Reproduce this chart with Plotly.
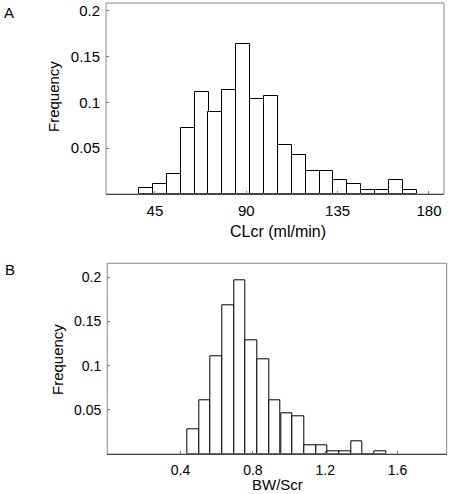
import plotly.graph_objects as go

W, H = 450, 494

# Panel A: CLcr histogram
clcr_centers = [40.7, 47.5, 54.3, 61.2, 68.0, 74.8, 81.7, 88.5, 95.3, 102.2,
                109.0, 115.8, 122.7, 129.5, 136.3, 143.2, 150.0, 156.8, 163.7, 170.5]
clcr_freq = [0.007, 0.011, 0.022, 0.072, 0.111, 0.089, 0.114, 0.164, 0.104, 0.107,
             0.053, 0.043, 0.025, 0.025, 0.015, 0.011, 0.0044, 0.0044, 0.015, 0.0044]
clcr_bin_width = 6.83
clcr_ticks = [45, 90, 135, 180]

# Panel B: BW/Scr histogram
bwscr_centers = [0.469, 0.534, 0.599, 0.663, 0.728, 0.793, 0.857, 0.922, 0.987,
                 1.052, 1.116, 1.181, 1.246, 1.310, 1.375, 1.440, 1.505]
bwscr_freq = [0.0285, 0.061, 0.111, 0.168, 0.197, 0.129, 0.107, 0.061, 0.046,
              0.043, 0.010, 0.010, 0.0033, 0.0033, 0.014, 0.0, 0.0033]
bwscr_bin_width = 0.0647
bwscr_ticks = [0.4, 0.8, 1.2, 1.6]
bwscr_ticktext = ["0.4", "0.8", "1.2", "1.6"]

freq_ticks = [0.05, 0.1, 0.15, 0.2]
freq_ticktext = ["0.05", "0.1", "0.15", "0.2"]

FONT = "Liberation Sans, Arial, sans-serif"

fig = go.Figure()
fig.add_trace(go.Bar(x=clcr_centers, y=clcr_freq, width=clcr_bin_width,
                     marker=dict(color="white", line=dict(color="black", width=1)),
                     xaxis="x", yaxis="y", showlegend=False))
fig.add_trace(go.Bar(x=bwscr_centers, y=bwscr_freq, width=bwscr_bin_width,
                     marker=dict(color="white", line=dict(color="black", width=1)),
                     xaxis="x2", yaxis="y2", showlegend=False))

def px_x(p):
    return p / W

def px_y(p):
    return 1 - p / H

common_x = dict(showgrid=False, zeroline=False, showline=True, linecolor="black",
                linewidth=1, ticks="inside", ticklen=3, tickcolor="#777",
                ticklabelstandoff=3)
common_y = dict(showgrid=False, zeroline=False, showline=False,
                ticks="inside", ticklen=3, tickcolor="#777",
                tickvals=freq_ticks, ticktext=freq_ticktext, ticklabelstandoff=5)

fig.update_layout(
    width=W, height=H,
    margin=dict(l=0, r=0, t=0, b=0),
    paper_bgcolor="white", plot_bgcolor="white",
    font=dict(family=FONT, color="black", size=15),
    bargap=0,
    xaxis=dict(domain=[px_x(106), px_x(444)], range=[20.9, 187.4], anchor="y",
               tickvals=clcr_ticks, tickfont=dict(size=15), **common_x),
    yaxis=dict(domain=[px_y(194), px_y(3)], range=[0, 0.2085], anchor="x",
               tickfont=dict(size=15), **common_y),
    xaxis2=dict(domain=[px_x(107.3), px_x(446.7)], range=[-0.005, 1.872], anchor="y2",
                tickvals=bwscr_ticks, ticktext=bwscr_ticktext, tickfont=dict(size=14),
                **common_x),
    yaxis2=dict(domain=[px_y(454), px_y(263.3)], range=[0, 0.216], anchor="x2",
                tickfont=dict(size=14), **common_y),
)

# gray frame around each plot area
for xr, yr in (("x domain", "y domain"), ("x2 domain", "y2 domain")):
    fig.add_shape(type="rect", xref=xr, yref=yr, x0=0, x1=1, y0=0, y1=1,
                  line=dict(color="#888", width=1), layer="above")

anns = [
    dict(text="A", x=px_x(9), y=px_y(13), size=15),
    dict(text="B", x=px_x(10), y=px_y(269), size=15),
    dict(text="CLcr (ml/min)", x=px_x(278), y=px_y(231.5), size=16),
    dict(text="BW/Scr", x=px_x(277), y=px_y(484.5), size=15),
    dict(text="Frequency", x=px_x(53), y=px_y(97), size=15, angle=-90),
    dict(text="Frequency", x=px_x(57), y=px_y(360), size=15, angle=-90),
]
for a in anns:
    fig.add_annotation(text=a["text"], x=a["x"], y=a["y"], xref="paper", yref="paper",
                       showarrow=False, xanchor="center", yanchor="middle",
                       textangle=a.get("angle", 0),
                       font=dict(family=FONT, size=a["size"], color="black"))

fig.write_html(
    "out.html",
    config={"displayModeBar": False},
    post_script="document.body.style.margin='0';document.body.style.overflow='hidden';",
)
